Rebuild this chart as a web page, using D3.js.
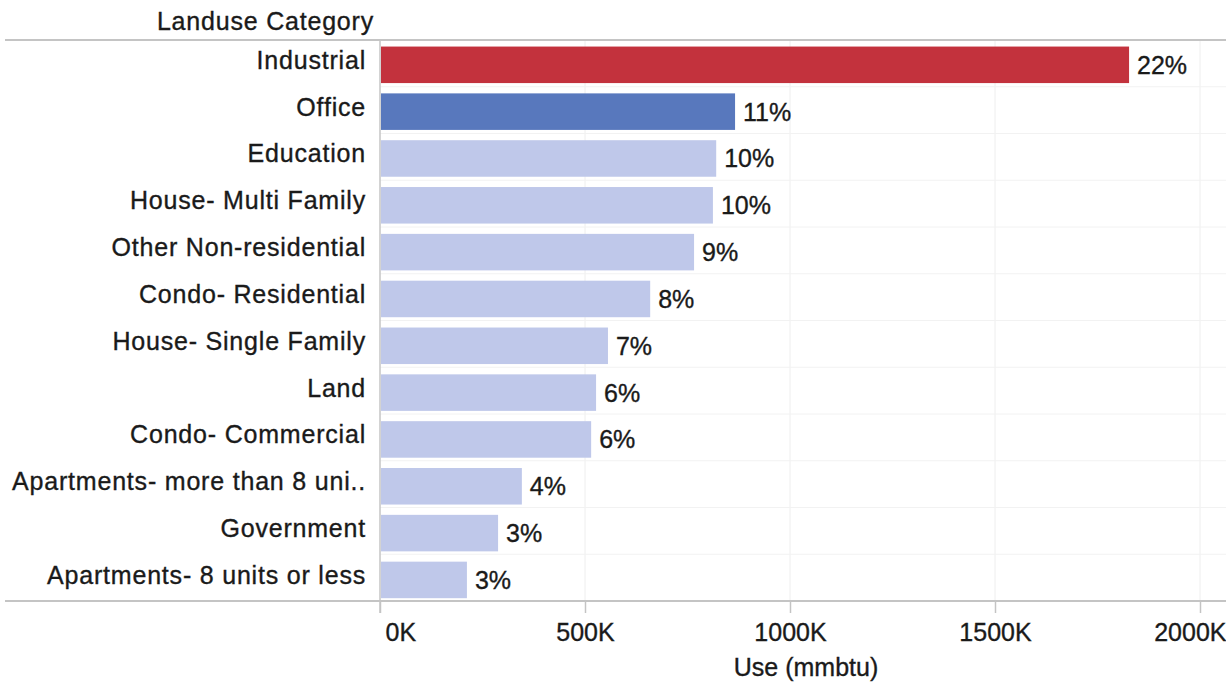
<html>
<head>
  <script type="text/javascript" src="https://cdn.jsdelivr.net/npm/d3@7"></script>
  <style>
  body { margin: 0; background: #fff; }
  text { font-family: "Liberation Sans", Arial, sans-serif; fill: #1a1a1a; stroke: #1a1a1a; stroke-width: 0.35px; }
  </style>
</head>
<body>

<script type="text/javascript">
var categories = ["Industrial", "Office", "Education", "House- Multi Family",
  "Other Non-residential", "Condo- Residential", "House- Single Family", "Land",
  "Condo- Commercial", "Apartments- more than 8 uni..", "Government",
  "Apartments- 8 units or less"];
var useValues = [1827, 866, 820, 812, 766, 659, 556, 527, 515, 346, 288, 212]; // thousands of mmbtu
var pctLabels = ["22%", "11%", "10%", "10%", "9%", "8%", "7%", "6%", "6%", "4%", "3%", "3%"];
var xTicks = [0, 500, 1000, 1500, 2000];

var W = 1226, H = 683;
var plotLeft = 380, plotTop = 40, plotBottom = 601, plotRight = 1226;

var svg = d3.select("body").append("svg")
  .attr("width", W).attr("height", H);

var x = d3.scaleLinear().domain([0, 2000]).range([plotLeft, 1200]);
var y = d3.scaleBand().domain(categories).range([plotTop, plotBottom])
  .paddingInner(0.22).paddingOuter(0.1).align(0.7);
var rows = d3.scaleBand().domain(categories).range([plotTop, plotBottom]);

function barColor(d, i) {
  if (i == 0) return "#c3323d";
  if (i == 1) return "#5878bd";
  return "#bfc8ea";
}

// gridlines
svg.selectAll(".vgrid").data(xTicks.slice(1)).enter().append("line")
  .attr("x1", function(d) { return x(d); })
  .attr("x2", function(d) { return x(d); })
  .attr("y1", plotTop).attr("y2", plotBottom)
  .attr("stroke", "#eeeeee").attr("stroke-width", 1);

svg.selectAll(".hgrid").data(categories.slice(1)).enter().append("line")
  .attr("x1", plotLeft).attr("x2", plotRight)
  .attr("y1", function(d) { return rows(d); })
  .attr("y2", function(d) { return rows(d); })
  .attr("stroke", "#f2f2f2").attr("stroke-width", 1);

// bars
svg.selectAll("rect").data(useValues).enter().append("rect")
  .attr("x", x(0) + 1)
  .attr("y", function(d, i) { return y(categories[i]); })
  .attr("width", function(d) { return x(d) - x(0) - 1; })
  .attr("height", y.bandwidth())
  .attr("fill", barColor);

svg.selectAll(".pct").data(useValues).enter().append("text")
  .attr("x", function(d) { return x(d) + 8; })
  .attr("y", function(d, i) { return y(categories[i]) + y.bandwidth() / 2; })
  .attr("dy", "0.36em")
  .style("font-size", "25px")
  .text(function(d, i) { return pctLabels[i]; });

// category labels
svg.selectAll(".cat").data(categories).enter().append("text")
  .attr("x", 366)
  .attr("y", function(d) { return y(d) + y.bandwidth() / 2 - 5; })
  .attr("dy", "0.36em")
  .attr("text-anchor", "end")
  .style("font-size", "25px")
  .style("letter-spacing", "0.8px")
  .text(function(d) { return d; });

svg.append("text")
  .attr("x", 374).attr("y", 30)
  .attr("text-anchor", "end")
  .style("font-size", "25px")
  .style("letter-spacing", "0.8px")
  .text("Landuse Category");

// frame lines
svg.append("line").attr("x1", 5).attr("x2", plotRight).attr("y1", plotTop).attr("y2", plotTop)
  .attr("stroke", "#c4c4c4").attr("stroke-width", 2);
svg.append("line").attr("x1", plotLeft).attr("x2", plotLeft).attr("y1", plotTop).attr("y2", 613)
  .attr("stroke", "#c4c4c4").attr("stroke-width", 1.5);

// x axis
var xAxis = d3.axisBottom(x).tickValues(xTicks)
  .tickFormat(function(d) { return d + "K"; })
  .tickSize(12).tickPadding(10);
var gx = svg.append("g").attr("transform", "translate(0," + plotBottom + ")").call(xAxis);
gx.select(".domain").remove();
gx.selectAll(".tick line").attr("stroke", "#c4c4c4").attr("stroke-width", 1.5);
gx.selectAll(".tick text")
  .style("font-size", "25px")
  .style("font-family", "Liberation Sans, Arial, sans-serif")
  .attr("fill", "#1a1a1a")
  .attr("text-anchor", function(d, i) { return i == 0 ? "start" : (i == xTicks.length - 1 ? "end" : "middle"); })
  .attr("dx", function(d, i) { return i == 0 ? 5 : (i == xTicks.length - 1 ? 26 : 0); });
svg.append("line").attr("x1", 5).attr("x2", plotRight).attr("y1", plotBottom).attr("y2", plotBottom)
  .attr("stroke", "#c4c4c4").attr("stroke-width", 2);

svg.append("text")
  .attr("x", 806).attr("y", 676)
  .attr("text-anchor", "middle")
  .style("font-size", "25px")
  .text("Use (mmbtu)");
</script>

</body>
</html>
